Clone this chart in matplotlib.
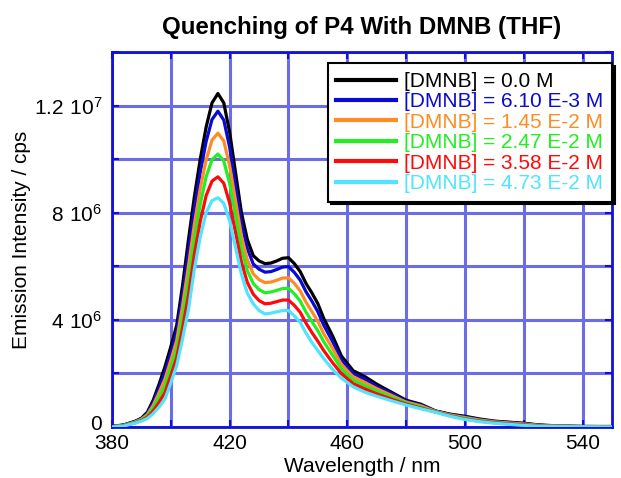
import numpy as np
import matplotlib
matplotlib.use("Agg")
from matplotlib import pyplot as plt
from matplotlib.ticker import MultipleLocator, FixedLocator
from matplotlib.transforms import ScaledTranslation

plt.rcParams['font.family'] = ['Liberation Sans', 'DejaVu Sans']
plt.rcParams['mathtext.fontset'] = 'custom'
plt.rcParams['mathtext.rm'] = 'Liberation Sans'

# wavelength (nm)
wavelength = [380, 384, 388, 390, 392, 394, 396, 398, 400, 402, 404, 406, 408, 410,
              412, 414, 416, 418, 420, 422, 424, 426, 428, 430, 432, 434, 436, 438,
              440, 442, 444, 446, 448, 450, 452, 455, 458, 462, 466, 470, 475, 480,
              485, 490, 495, 500, 505, 510, 515, 520, 525, 530, 540, 550]

# emission intensity, units of 1e6 cps
i_000 = [0.02, 0.08, 0.22, 0.33, 0.55, 1.00, 1.60, 2.25, 3.00, 3.80, 5.30, 7.00, 8.60, 10.00,
         11.20, 12.10, 12.45, 12.10, 11.00, 9.50, 8.00, 7.00, 6.40, 6.20, 6.10, 6.12, 6.20, 6.30,
         6.32, 6.10, 5.80, 5.35, 5.00, 4.60, 4.05, 3.40, 2.65, 2.10, 1.88, 1.60, 1.30, 1.00,
         0.85, 0.60, 0.48, 0.40, 0.30, 0.22, 0.18, 0.14, 0.08, 0.05, 0.02, 0.02]
i_610 = [0.02, 0.07, 0.21, 0.31, 0.51, 0.92, 1.46, 2.05, 2.77, 3.55, 4.96, 6.56, 8.14, 9.51,
         10.66, 11.48, 11.79, 11.46, 10.44, 9.02, 7.61, 6.66, 6.09, 5.89, 5.78, 5.80, 5.88, 5.97,
         5.99, 5.77, 5.48, 5.04, 4.69, 4.30, 3.80, 3.19, 2.51, 2.00, 1.78, 1.52, 1.25, 0.97,
         0.82, 0.59, 0.47, 0.38, 0.28, 0.21, 0.17, 0.13, 0.07, 0.04, 0.02, 0.01]
i_145 = [0.01, 0.06, 0.19, 0.29, 0.46, 0.81, 1.28, 1.79, 2.49, 3.23, 4.54, 6.01, 7.57, 8.90,
         9.98, 10.71, 10.97, 10.68, 9.75, 8.44, 7.13, 6.24, 5.72, 5.50, 5.39, 5.41, 5.48, 5.56,
         5.57, 5.36, 5.08, 4.65, 4.30, 3.94, 3.48, 2.93, 2.33, 1.87, 1.66, 1.43, 1.18, 0.93,
         0.79, 0.58, 0.45, 0.35, 0.26, 0.19, 0.15, 0.11, 0.06, 0.04, 0.02, 0.01]
i_247 = [0.01, 0.06, 0.18, 0.27, 0.42, 0.71, 1.11, 1.55, 2.22, 2.93, 4.14, 5.49, 7.03, 8.32,
         9.34, 9.98, 10.19, 9.93, 9.09, 7.88, 6.67, 5.84, 5.36, 5.13, 5.01, 5.04, 5.10, 5.17,
         5.18, 4.97, 4.70, 4.28, 3.93, 3.59, 3.18, 2.68, 2.17, 1.75, 1.54, 1.34, 1.11, 0.90,
         0.75, 0.57, 0.43, 0.33, 0.24, 0.17, 0.13, 0.09, 0.05, 0.03, 0.01, 0.01]
i_358 = [0.00, 0.05, 0.16, 0.24, 0.37, 0.60, 0.92, 1.29, 1.92, 2.60, 3.70, 4.92, 6.44, 7.68,
         8.64, 9.18, 9.34, 9.10, 8.36, 7.26, 6.16, 5.40, 4.96, 4.72, 4.60, 4.62, 4.68, 4.74,
         4.74, 4.54, 4.28, 3.87, 3.52, 3.20, 2.85, 2.40, 1.99, 1.62, 1.42, 1.24, 1.04, 0.86,
         0.71, 0.56, 0.42, 0.30, 0.22, 0.16, 0.12, 0.08, 0.04, 0.03, 0.01, 0.00]
i_473 = [0.00, 0.04, 0.15, 0.22, 0.32, 0.50, 0.75, 1.05, 1.65, 2.30, 3.30, 4.40, 5.90, 7.10,
         8.00, 8.45, 8.56, 8.35, 7.70, 6.70, 5.70, 5.00, 4.60, 4.35, 4.22, 4.25, 4.30, 4.35,
         4.35, 4.15, 3.90, 3.50, 3.15, 2.85, 2.55, 2.15, 1.82, 1.50, 1.30, 1.15, 0.98, 0.82,
         0.68, 0.55, 0.40, 0.28, 0.20, 0.14, 0.10, 0.06, 0.03, 0.02, 0.01, 0.00]

labels = ['[DMNB] = 0.0 M', '[DMNB] = 6.10 E-3 M', '[DMNB] = 1.45 E-2 M',
          '[DMNB] = 2.47 E-2 M', '[DMNB] = 3.58 E-2 M', '[DMNB] = 4.73 E-2 M']
colors = ['#000000', '#0a0ad2', '#ff8c22', '#22ee22', '#ff0a0a', '#50e4ff']
series = [i_000, i_610, i_145, i_247, i_358, i_473]

xticks = [380, 420, 460, 500, 540]
yticks = [0, 4e6, 8e6, 1.2e7]
ytick_labels = ['0', r'$\mathregular{4\ 10^{6}}$', r'$\mathregular{8\ 10^{6}}$',
                r'$\mathregular{1.2\ 10^{7}}$']

fig = plt.figure(figsize=(6.21, 4.78), dpi=100)
ax = fig.add_axes([0.1804, 0.1067, 0.8051, 0.7845])

wl = np.array(wavelength)
for s, c, lab in zip(series, colors, labels):
    ax.plot(wl, np.array(s) * 1e6, color=c, lw=2.3, label=lab, zorder=3)

ax.set_xlim(380, 550)
ax.set_ylim(0, 1.4e7)
ax.xaxis.set_major_locator(FixedLocator(xticks))
ax.xaxis.set_minor_locator(MultipleLocator(20))
ax.yaxis.set_major_locator(FixedLocator(yticks))
ax.set_yticklabels(ytick_labels)
ax.yaxis.set_minor_locator(MultipleLocator(2e6))

# gridlines every 20 nm and every 2e6
gridc = '#6c6ce4'
ax.grid(True, which='both', color=gridc, lw=2.2, zorder=1)
ax.set_axisbelow(True)
for sp in ax.spines.values():
    sp.set_color('#1010d8')
    sp.set_linewidth(2)
ax.tick_params(which='both', direction='in', colors='#1010d8', length=5, width=1.5,
               top=True, right=True, labelcolor='black', labelsize=15)
ax.tick_params(axis='y', pad=7)
ax.tick_params(axis='x', pad=5)

# nudge the "0" label up a little so it clears "380"
zero_lab = ax.get_yticklabels()[0]
zero_lab.set_transform(zero_lab.get_transform() + ScaledTranslation(0, 3 / 72, fig.dpi_scale_trans))

ax.set_xlabel('Wavelength / nm', fontsize=15, labelpad=3)
ax.set_ylabel('Emission Intensity / cps', fontsize=15, labelpad=2)
ax.set_title('Quenching of P4 With DMNB (THF)', fontsize=17.4, fontweight='bold', pad=13)

leg = ax.legend(loc='upper right', bbox_to_anchor=(1.0, 0.97), borderaxespad=0,
                fontsize=15, handlelength=2.88, labelspacing=0.07, handletextpad=0.38,
                borderpad=0.41, fancybox=False, framealpha=1, edgecolor='black',
                shadow={'color': 'black', 'alpha': 1})
leg.get_frame().set_linewidth(1.5)
for t, c in zip(leg.get_texts(), colors):
    t.set_color(c)
for h in leg.get_lines():
    h.set_linewidth(3)

fig.savefig('out.png', dpi=100)
